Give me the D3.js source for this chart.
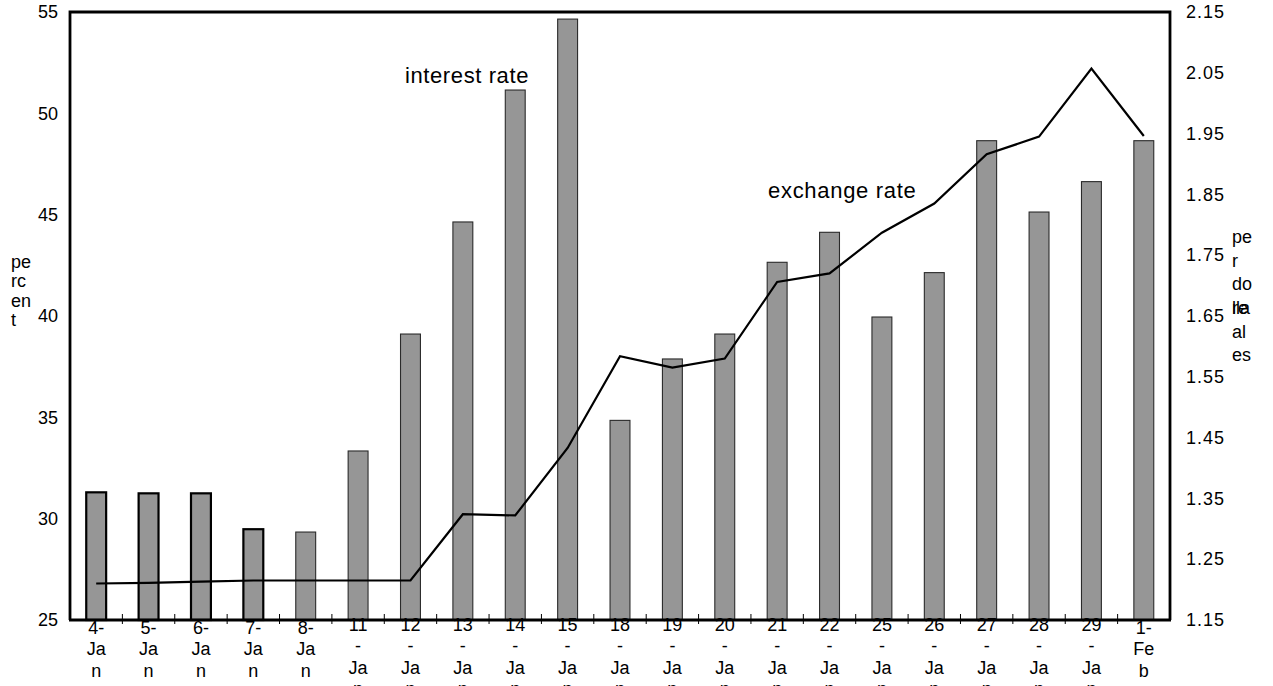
<!DOCTYPE html>
<html>
<head>
<meta charset="utf-8">
<script src="https://cdn.jsdelivr.net/npm/d3@7"></script>
<style>
  html, body { margin: 0; padding: 0; background: #fff; }
  svg { display: block; font-family: "Liberation Sans", Arial, sans-serif; }
</style>
</head>
<body>
<svg id="chart" width="1273" height="686"></svg>
<script>
// ---- data ----
const categories = ["4-Jan","5-Jan","6-Jan","7-Jan","8-Jan","11-Jan","12-Jan","13-Jan","14-Jan","15-Jan",
  "18-Jan","19-Jan","20-Jan","21-Jan","22-Jan","25-Jan","26-Jan","27-Jan","28-Jan","29-Jan","1-Feb"];
const interestRate = [31.3, 31.25, 31.25, 29.48, 29.34, 33.34, 39.11, 44.64, 51.15, 54.65,
  34.85, 37.88, 39.11, 42.65, 44.13, 39.95, 42.14, 48.65, 45.13, 46.63, 48.65];
const exchangeRate = [1.210, 1.211, 1.213, 1.215, 1.215, 1.215, 1.215, 1.324, 1.322, 1.433,
  1.584, 1.565, 1.580, 1.706, 1.720, 1.787, 1.835, 1.916, 1.945, 2.057, 1.946];
const leftTicks = [25, 30, 35, 40, 45, 50, 55];
const rightTicks = [1.15, 1.25, 1.35, 1.45, 1.55, 1.65, 1.75, 1.85, 1.95, 2.05, 2.15];
const leftTitleLines = ["pe", "rc", "en", "t"];
const rightTitleLinesA = ["pe", "r", "do", "lla"];
const rightTitleLinesB = ["re", "al", "es"];

// ---- layout ----
const L = 70, R = 1170, T = 12, B = 620;
const svg = d3.select("#chart");

const x = d3.scaleBand().domain(categories).range([L, R]).paddingInner(0.62).paddingOuter(0.31);
const yL = d3.scaleLinear().domain([25, 55]).range([B, T]);
const yR = d3.scaleLinear().domain([1.15, 2.15]).range([B, T]);
const step = x.step();

// bars
svg.append("g").selectAll("rect").data(interestRate).join("rect")
  .attr("x", (d, i) => x(categories[i]))
  .attr("y", d => yL(d))
  .attr("width", x.bandwidth())
  .attr("height", d => B - yL(d))
  .attr("fill", "#969696")
  .attr("stroke", (d, i) => i < 4 ? "#000" : "#2a2a2a")
  .attr("stroke-width", (d, i) => i < 4 ? 2.2 : 1.1);

// line
const line = d3.line()
  .x((d, i) => x(categories[i]) + x.bandwidth() / 2)
  .y(d => yR(d));
svg.append("path").datum(exchangeRate)
  .attr("d", line)
  .attr("fill", "none")
  .attr("stroke", "#000")
  .attr("stroke-width", 2.2)
  .attr("stroke-linejoin", "miter");

// frame
svg.append("path")
  .attr("d", `M${L},${B}V${T}H${R}V${B}`)
  .attr("fill", "none").attr("stroke", "#000").attr("stroke-width", 2.8);
svg.append("line").attr("x1", L - 1).attr("x2", R + 1).attr("y1", B).attr("y2", B)
  .attr("stroke", "#000").attr("stroke-width", 2.8);

// bottom boundary ticks
svg.append("g").selectAll("line").data(categories.slice(1)).join("line")
  .attr("x1", d => x(d) - (step - x.bandwidth()) / 2)
  .attr("x2", d => x(d) - (step - x.bandwidth()) / 2)
  .attr("y1", B - 6).attr("y2", B + 4)
  .attr("stroke", "#000").attr("stroke-width", 1);

// left axis
const gL = svg.append("g").attr("transform", `translate(${L},0)`)
  .call(d3.axisLeft(yL).tickValues(leftTicks).tickSize(0).tickPadding(12).tickFormat(d3.format("d")));
gL.select(".domain").remove();
gL.selectAll("text").attr("font-size", 18).attr("fill", "#000")
  .attr("font-family", "'Liberation Sans', Arial, sans-serif");

// right axis
const gR = svg.append("g").attr("transform", `translate(${R},0)`)
  .call(d3.axisRight(yR).tickValues(rightTicks).tickSize(0).tickPadding(16).tickFormat(d3.format(".2f")));
gR.select(".domain").remove();
gR.selectAll("text").attr("font-size", 18).attr("letter-spacing", 1).attr("fill", "#000")
  .attr("font-family", "'Liberation Sans', Arial, sans-serif");

// category labels (narrow wrapping)
function wrapLabel(s) {
  const k = s.indexOf("-");
  const head = s.slice(0, k + 1), rest = s.slice(k + 1);
  const out = [];
  if (head.length > 2) { out.push(head.slice(0, -1)); out.push("-"); } else out.push(head);
  for (let j = 0; j < rest.length; j += 2) out.push(rest.slice(j, j + 2));
  return out;
}
const gX = svg.append("g");
categories.forEach(c => {
  const lines = wrapLabel(c);
  const cx = x(c) + x.bandwidth() / 2;
  const y0 = 634 - (lines.length - 3) * 3;
  const t = gX.append("text").attr("text-anchor", "middle").attr("font-size", 18).attr("fill", "#000");
  lines.forEach((ln, j) => t.append("tspan").attr("x", cx).attr("y", y0 + j * 21.3).text(ln));
});

// axis titles
const tl = svg.append("text").attr("font-size", 18).attr("fill", "#000");
leftTitleLines.forEach((ln, j) => tl.append("tspan").attr("x", 11).attr("y", 268 + j * 19.3).text(ln));
const tra = svg.append("text").attr("font-size", 18).attr("fill", "#000");
rightTitleLinesA.forEach((ln, j) => tra.append("tspan").attr("x", 1232).attr("y", 243 + j * 23.7).text(ln));
const trb = svg.append("text").attr("font-size", 18).attr("fill", "#000");
rightTitleLinesB.forEach((ln, j) => trb.append("tspan").attr("x", 1232).attr("y", 314 + j * 23.7).text(ln));

// annotations
svg.append("text").attr("x", 405).attr("y", 83).attr("font-size", 22).attr("letter-spacing", 0.6)
  .attr("fill", "#000").text("interest rate");
svg.append("text").attr("x", 768).attr("y", 198).attr("font-size", 22).attr("letter-spacing", 0.7)
  .attr("fill", "#000").text("exchange rate");
</script>
</body>
</html>
